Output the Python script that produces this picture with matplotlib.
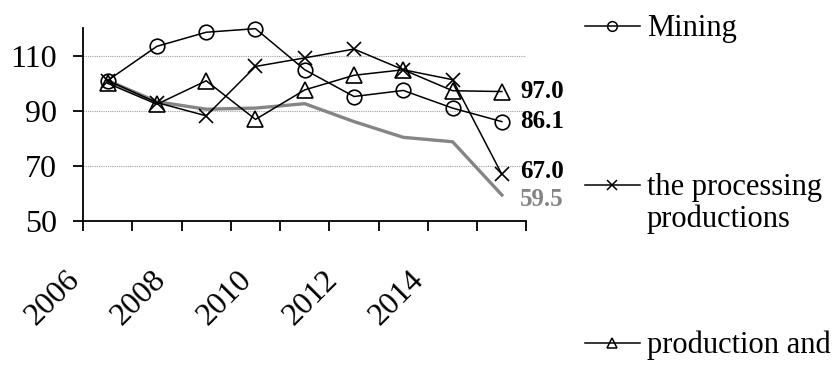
import matplotlib
matplotlib.use('Agg')
import matplotlib.pyplot as plt
from matplotlib.lines import Line2D
import numpy as np

years = ['2006', '2007', '2008', '2009', '2010', '2011', '2012', '2013', '2014']
mining = [101.0, 113.4, 118.5, 119.8, 104.9, 95.2, 97.4, 91.0, 86.1]
processing = [101.0, 93.0, 88.2, 106.1, 109.2, 112.4, 104.9, 101.3, 67.0]
production = [100.0, 92.4, 100.9, 86.9, 97.6, 102.9, 104.9, 97.3, 97.0]
total = [101.0, 93.3, 90.6, 91.0, 92.6, 86.1, 80.4, 78.8, 59.5]

legend_labels = ['Mining', 'the processing\nproductions', 'production and']

plt.rcParams['font.family'] = ['Liberation Serif', 'DejaVu Serif']
plt.rcParams['font.size'] = 23

fig = plt.figure(figsize=(8.32, 3.65), dpi=100)
ax = fig.add_axes([0.0998, 0.394, 0.533, 0.529])

x = np.arange(len(years))
grey = '#858585'
ax.plot(x, total, color=grey, lw=2.4, zorder=2, clip_on=False)
ax.plot(x, mining, color='k', lw=1.1, marker='o', ms=10.5, mfc='none', mec='k', mew=1.2,
        zorder=3, clip_on=False)
ax.plot(x, processing, color='k', lw=1.1, marker='x', ms=10, mec='k', mew=1.2,
        zorder=3, clip_on=False)
ax.plot(x, production, color='k', lw=1.1, marker='^', ms=11, mfc='none', mec='k', mew=1.2,
        zorder=3, clip_on=False)

# end-of-line value labels (small vertical nudge to keep the two low ones apart)
for vals, col, dy in [(production, 'k', 0), (mining, 'k', 0), (processing, 'k', 2), (total, grey, -3)]:
    ax.annotate(f'{vals[-1]:.1f}', (x[-1], vals[-1]), xytext=(13, dy),
                textcoords='offset points', va='center', ha='left',
                fontsize=18, fontweight='bold', color=col, annotation_clip=False)

ax.set_ylim(50, 120)
ax.set_xlim(-0.5, len(years) - 0.5)
ax.set_yticks([50, 70, 90, 110])
for g in [70, 90, 110]:
    ax.axhline(g, color='#a0a0a0', lw=0.8, ls=(0, (1, 1)), zorder=1)

ax.set_xticks(np.arange(-0.5, len(years), 1))
ax.set_xticklabels([])
lab_pos = np.arange(5) * 1.745 - 0.45
ax.set_xticks(lab_pos, minor=True)
ax.set_xticklabels(years[::2], minor=True, rotation=45, ha='right', va='top')
ax.tick_params(axis='x', which='minor', length=0, pad=32)
ax.tick_params(axis='x', which='major', length=7, width=1.3, direction='out')
ax.tick_params(axis='y', length=7, width=1.3, direction='out', pad=12)

for s in ['top', 'right']:
    ax.spines[s].set_visible(False)
for s in ['left', 'bottom']:
    ax.spines[s].set_linewidth(1.3)

# legend, drawn by hand (Excel-style, cut off at bottom)
W, H = 832, 365
entries = [('o', 26, legend_labels[0]), ('x', 185, legend_labels[1]), ('^', 343, legend_labels[2])]
for mk, ypx, lab in entries:
    yf = 1 - ypx / H
    xs = [585 / W, 612 / W, 640 / W]
    fig.add_artist(Line2D(xs, [yf] * 3, transform=fig.transFigure, color='k', lw=1.1,
                          marker=mk, markevery=[1], ms=7, mfc='none', mec='k', mew=1.1))
    fig.text(647 / W, yf + 12 / H, lab, va='top', ha='left', fontsize=22, linespacing=1.1,
             transform=fig.transFigure)

fig.savefig('out.png', dpi=100)
